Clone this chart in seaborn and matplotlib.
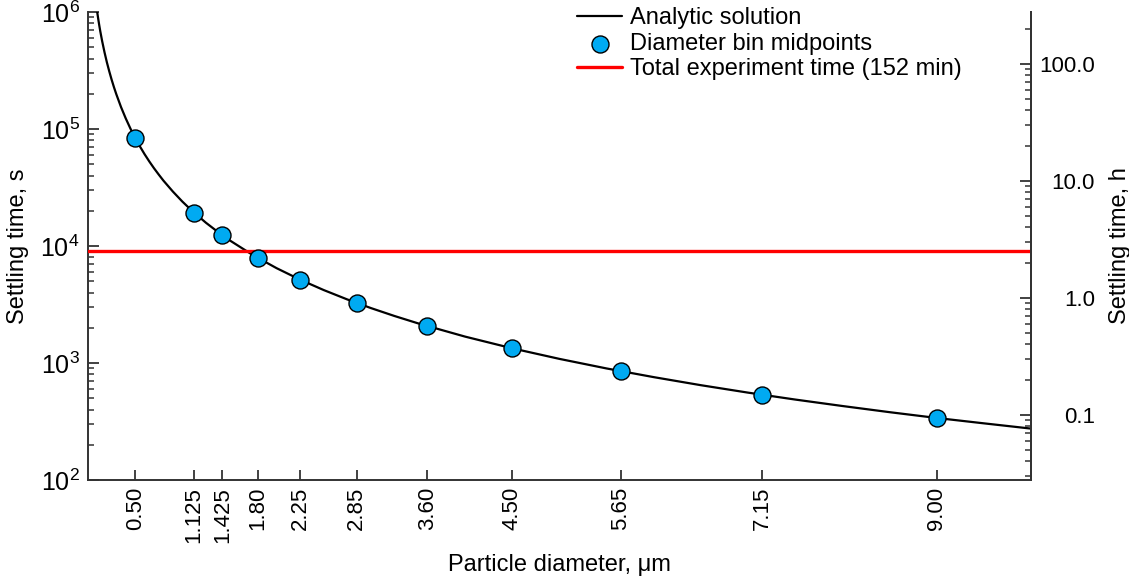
import numpy as np
import pandas as pd
import matplotlib
matplotlib.use("Agg")
import matplotlib.pyplot as plt
from matplotlib.ticker import FixedLocator, FuncFormatter, LogLocator, NullFormatter
import seaborn as sns

# ---- data ----
curve_d = [0.09, 0.095, 0.10, 0.11, 0.12, 0.13, 0.15, 0.175, 0.20, 0.225, 0.25, 0.275,
           0.30, 0.35, 0.40, 0.45, 0.50, 0.55, 0.60, 0.65, 0.70, 0.75, 0.80, 0.90,
           1.00, 1.10, 1.25, 1.40, 1.50, 1.75, 2.00, 2.25, 2.50, 2.75, 3.00, 3.25,
           3.50, 4.00, 4.50, 5.00, 5.50, 6.00, 6.50, 7.00, 7.50, 8.00, 8.50, 9.00,
           9.50, 10.00]
curve_t = [1.108e6, 1.035e6, 9.69e5, 8.57e5, 7.64e5, 6.86e5, 5.64e5, 4.53e5, 3.72e5,
           3.12e5, 2.65e5, 2.28e5, 1.985e5, 1.542e5, 1.233e5, 1.008e5, 8.40e4, 7.11e4,
           6.09e4, 5.28e4, 4.62e4, 4.08e4, 3.62e4, 2.92e4, 2.40e4, 2.01e4, 1.582e4,
           1.277e4, 1.121e4, 8351, 6464, 5151, 4201, 3492, 2948, 2522, 2182, 1680,
           1334, 1084, 898, 757, 646, 558, 487, 429, 380, 339, 305, 275]
bin_d = [0.50, 1.125, 1.425, 1.80, 2.25, 2.85, 3.60, 4.50, 5.65, 7.15, 9.00]
bin_t = [8.40e4, 1.928e4, 1.235e4, 7913, 5151, 3258, 2065, 1334, 852, 535, 339]
xtick_labels = ["0.50", "1.125", "1.425", "1.80", "2.25", "2.85", "3.60", "4.50",
                "5.65", "7.15", "9.00"]
experiment_min = 152
right_ticks = [0.1, 1.0, 10.0, 100.0]

curve_df = pd.DataFrame({"d": curve_d, "t": curve_t})
bin_df = pd.DataFrame({"d": bin_d, "t": bin_t})

sns.set_style("ticks")
plt.rcParams["font.family"] = ["Liberation Sans", "DejaVu Sans"]
plt.rcParams["mathtext.fontset"] = "custom"
plt.rcParams["mathtext.rm"] = "Liberation Sans"
plt.rcParams["mathtext.it"] = "Liberation Sans:italic"
plt.rcParams["mathtext.bf"] = "Liberation Sans:bold"
for k in ["text.color", "axes.labelcolor", "xtick.labelcolor", "ytick.labelcolor"]:
    plt.rcParams[k] = "black"

fig = plt.figure(figsize=(11.29, 5.77), dpi=100)
ax = fig.add_axes([88 / 1129, 1 - 480 / 577, (1031 - 88) / 1129, (480 - 12) / 577])

sns.lineplot(data=curve_df, x="d", y="t", ax=ax, color="black", lw=1.6,
             label="Analytic solution", sort=True)
sns.scatterplot(data=bin_df, x="d", y="t", ax=ax, color="#00AAF2", s=150,
                edgecolor="black", linewidth=1.0, zorder=5,
                label="Diameter bin midpoints")
ax.axhline(experiment_min * 60, color="#FF0000", lw=2.4, label="Total experiment time (152 min)",
           zorder=3)

ax.set_yscale("log")
ax.set_ylim(1e2, 1e6)
ax.set_xlim(0, 10)

spine_col = "#333333"
for s in ["left", "bottom", "right"]:
    ax.spines[s].set_color(spine_col)
    ax.spines[s].set_linewidth(1.4)
ax.spines["top"].set_visible(False)

ax.xaxis.set_major_locator(FixedLocator(bin_d))
ax.set_xticklabels(xtick_labels, rotation=90, fontsize=16)
ax.tick_params(axis="x", direction="in", length=7, width=1.3, color=spine_col, pad=5,
               labelcolor="black")

ax.yaxis.set_major_locator(LogLocator(base=10, numticks=10))
ax.yaxis.set_minor_locator(LogLocator(base=10, subs=np.arange(2, 10), numticks=20))
ax.yaxis.set_minor_formatter(NullFormatter())
ax.yaxis.set_major_formatter(FuncFormatter(lambda v, p: r"$\mathregular{10^{%d}}$" % round(np.log10(v))))
ax.tick_params(axis="y", which="major", direction="in", length=8, width=1.3,
               color=spine_col, labelsize=18, pad=6, labelcolor="black")
ax.tick_params(axis="y", which="minor", direction="in", length=4.5, width=1.1, color=spine_col)

ax.set_xlabel("Particle diameter, μm", fontsize=17, labelpad=8, color="black")
ax.set_ylabel("Settling time, s", fontsize=17, labelpad=8, color="black")

ax2 = ax.twinx()
ax2.set_yscale("log")
ax2.set_ylim(1e2 / 3600, 1e6 / 3600)
ax2.spines["top"].set_visible(False)
ax2.spines["left"].set_visible(False)
ax2.spines["bottom"].set_visible(False)
ax2.spines["right"].set_color(spine_col)
ax2.spines["right"].set_linewidth(1.4)
ax2.yaxis.set_major_locator(FixedLocator(right_ticks))
ax2.yaxis.set_minor_locator(LogLocator(base=10, subs=np.arange(2, 10), numticks=20))
ax2.yaxis.set_minor_formatter(NullFormatter())
ax2.yaxis.set_major_formatter(FuncFormatter(lambda v, p: "%.1f" % v))
ax2.tick_params(axis="y", which="major", direction="in", length=8, width=1.3,
                color=spine_col, labelsize=16, pad=46, labelcolor="black")
ax2.tick_params(axis="y", which="minor", direction="in", length=4.5, width=1.1, color=spine_col)
for lab in ax2.get_yticklabels():
    lab.set_horizontalalignment("right")
ax2.set_ylabel("Settling time, h", fontsize=17, labelpad=10, color="black")

handles, labels = ax.get_legend_handles_labels()
ax.legend(handles, labels, loc="upper right", bbox_to_anchor=(0.937, 1.03), frameon=False,
          fontsize=17, handlelength=1.9, handletextpad=0.35, labelspacing=0.15,
          borderaxespad=0.0)

fig.savefig("out.png", dpi=100)
